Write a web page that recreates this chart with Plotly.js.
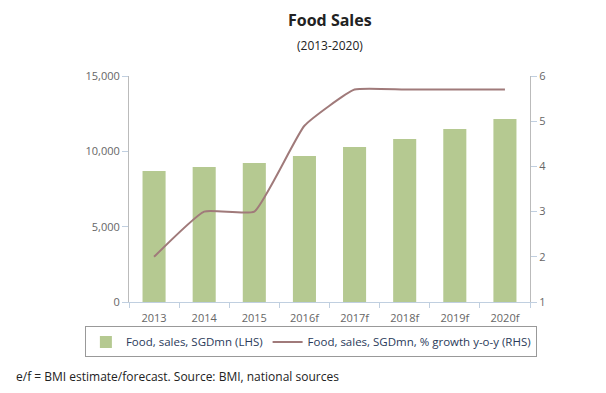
<!DOCTYPE html>
<html><head><meta charset="utf-8">
<script src="https://cdn.plot.ly/plotly-3.0.1.min.js"></script>
<style>body{margin:0;background:#fff}#c{width:606px;height:393px}</style>
</head><body><div id="c"></div>
<script>
const categories = ["2013","2014","2015","2016f","2017f","2018f","2019f","2020f"];
const salesSGDmn = [8700, 8960, 9230, 9690, 10290, 10820, 11480, 12150];
const growthPct = [2.0, 3.0, 3.0, 4.9, 5.7, 5.7, 5.7, 5.7];
const leftTicks = [0, 5000, 10000, 15000];
const rightTicks = [1, 2, 3, 4, 5, 6];

const font = "'Open Sans', 'DejaVu Sans', sans-serif";
const traces = [
  {type:'bar', x:categories, y:salesSGDmn, name:'Food, sales, SGDmn (LHS)',
   marker:{color:'#b5c991'}, width:0.46, yaxis:'y'},
  {type:'scatter', mode:'lines', x:categories, y:growthPct, yaxis:'y2',
   name:'Food, sales, SGDmn, % growth y-o-y (RHS)',
   line:{color:'#a07a7a', width:2, shape:'spline', smoothing:0.4}}
];
const layout = {
  width:606, height:393,
  margin:{l:129, r:76, t:76, b:91},
  paper_bgcolor:'#fff', plot_bgcolor:'#fff',
  font:{family:font, size:11, color:'#666'},
  showlegend:true,
  legend:{orientation:'h', x:-0.11, xanchor:'left', y:-0.108, yanchor:'top',
    bordercolor:'#999', borderwidth:1, font:{size:11.5, color:'#2a3a5a'}, traceorder:'normal'},
  xaxis:{type:'category', showline:true, linecolor:'#c0cfe0', linewidth:1,
    ticks:'outside', tickcolor:'#c0cfe0', ticklen:5, tickson:'boundaries',
    ticklabelstandoff:6,
    showgrid:false, zeroline:false, tickfont:{size:11, color:'#666'}},
  yaxis:{range:[0,15000], tickvals:leftTicks, tickformat:',d', showline:true,
    linecolor:'#bbb', ticks:'outside', tickcolor:'#c0cfe0', ticklen:6,
    showgrid:false, zeroline:false, tickfont:{size:11, color:'#666'}},
  yaxis2:{range:[1,6], tickvals:rightTicks, overlaying:'y', side:'right',
    showline:true, linecolor:'#bbb', ticks:'outside', tickcolor:'#c0cfe0', ticklen:6,
    showgrid:false, zeroline:false, tickfont:{size:11, color:'#666'}},
  annotations:[
    {text:'<b>Food Sales</b>', xref:'paper', yref:'paper', x:0.5, y:1, yanchor:'bottom',
     xanchor:'center', yshift:43, showarrow:false, font:{size:16, color:'#222', family:font}},
    {text:'(2013-2020)', xref:'paper', yref:'paper', x:0.5, y:1, yanchor:'bottom',
     xanchor:'center', yshift:20, showarrow:false, font:{size:12, color:'#222', family:font}},
    {text:'e/f = BMI estimate/forecast. Source: BMI, national sources', xref:'paper', yref:'paper',
     x:0, xshift:-115, y:0, yshift:-64, xanchor:'left', yanchor:'top', showarrow:false,
     font:{size:12, color:'#222', family:font}}
  ]
};
Plotly.newPlot('c', traces, layout, {displayModeBar:false, staticPlot:true});
</script></body></html>
